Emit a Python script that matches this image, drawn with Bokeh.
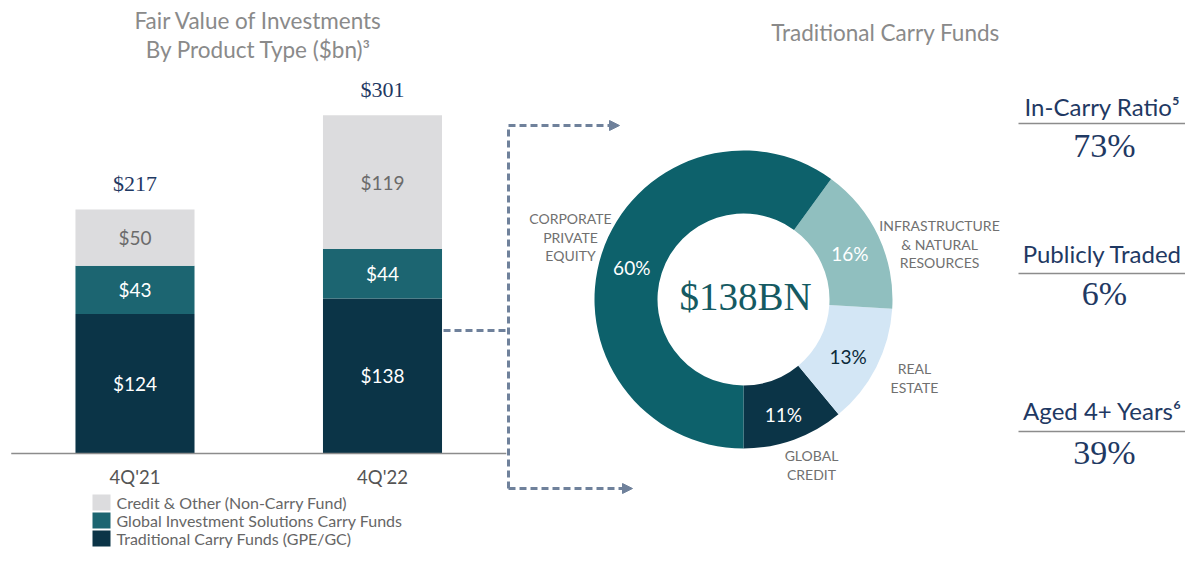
import numpy as np
from bokeh.plotting import figure
from bokeh.models import Range1d, Arrow, NormalHead
from bokeh.core.properties import value
from bokeh.embed import file_html
from bokeh.resources import INLINE

# ---------------- data ----------------
periods = ["4Q'21", "4Q'22"]
traditional = [124, 138]
gis = [43, 44]
credit_other = [50, 119]
totals = [217, 301]
legend_names = ["Credit & Other (Non-Carry Fund)",
                "Global Investment Solutions Carry Funds",
                "Traditional Carry Funds (GPE/GC)"]

donut_names = [["GLOBAL", "CREDIT"], ["REAL", "ESTATE"],
               ["INFRASTRUCTURE", "& NATURAL", "RESOURCES"],
               ["CORPORATE", "PRIVATE", "EQUITY"]]
donut_pct = [11, 13, 16, 60]
donut_total = "$138BN"

stat_titles = ["In-Carry Ratio\u2075", "Publicly Traded", "Aged 4+ Years\u2076"]
stat_values = ["73%", "6%", "39%"]

# ---------------- styles ----------------
SANS = value("Lato")
SERIF = value("Liberation Serif")
C_DARK = "#0b3447"
C_MID = "#1c6571"
C_LIGHT = "#dcdcde"
DONUT_COLORS = ["#0b3447", "#d3e6f5", "#90bfbf", "#0d616b"]
PCT_COLORS = ["white", "#0b2a3a", "white", "white"]
NAVY = "#1f3963"
GREY = "#8a8a8a"
DASH = "#6f819b"


def Y(y):
    return 566 - y


p = figure(width=1185, height=550, x_range=Range1d(0, 1185), y_range=Range1d(16, 566),
           output_backend="svg", toolbar_location=None, min_border=0,
           x_axis_location=None, y_axis_location=None)
p.grid.visible = False
p.outline_line_color = None
p.background_fill_color = "white"
p.border_fill_color = "white"

p.extra_x_ranges = {"cat": Range1d(-0.5434, 4.2444)}
p.extra_y_ranges = {"bn": Range1d(-86.30, 403.02)}

# ---------------- stacked bars ----------------
xi = np.arange(len(periods))
trad = np.array(traditional)
g = np.array(gis)
co = np.array(credit_other)
bw = 0.481
p.vbar(x=xi, bottom=0, top=trad, width=bw, fill_color=C_DARK, line_color=None,
       x_range_name="cat", y_range_name="bn")
p.vbar(x=xi, bottom=trad, top=trad + g, width=bw, fill_color=C_MID, line_color=None,
       x_range_name="cat", y_range_name="bn")
p.vbar(x=xi, bottom=trad + g, top=trad + g + co, width=bw, fill_color=C_LIGHT, line_color=None,
       x_range_name="cat", y_range_name="bn")

seg_kw = dict(text_align="center", text_baseline="middle", text_font=SANS,
              text_font_size="19px", x_range_name="cat", y_range_name="bn")
p.text(x=xi, y=trad / 2, text=["$%d" % v for v in trad], text_color="white", **seg_kw)
p.text(x=xi, y=trad + g / 2, text=["$%d" % v for v in g], text_color="white", **seg_kw)
p.text(x=xi, y=trad + g + co / 2, text=["$%d" % v for v in co], text_color="#6b6b6b", **seg_kw)

p.text(x=xi, y=np.array(totals) + 23, text=["$%d" % v for v in totals], text_color=NAVY,
       text_align="center", text_baseline="middle", text_font=SERIF, text_font_size="22px",
       x_range_name="cat", y_range_name="bn")

p.segment(x0=[-0.5], x1=[len(periods) - 0.5], y0=[0], y1=[0], line_color="#8c8c8c",
          line_width=1.5, x_range_name="cat", y_range_name="bn")

p.text(x=xi, y=[Y(476)] * len(periods), text=periods, text_color="#555555",
       text_align="center", text_baseline="middle", text_font=SANS, text_font_size="18.5px",
       x_range_name="cat")

# left title
p.text(x=[258, 258], y=[Y(20), Y(49)],
       text=["Fair Value of Investments", "By Product Type ($bn)\u00b3"],
       text_color=GREY, text_align="center", text_baseline="middle", text_font=SANS,
       text_font_size="22.5px")

# legend
leg_y = [Y(502), Y(520), Y(538)]
p.rect(x=[101] * 3, y=leg_y, width=18, height=16, fill_color=[C_LIGHT, C_MID, C_DARK],
       line_color=None)
p.text(x=[116] * 3, y=leg_y, text=legend_names, text_color="#666666", text_align="left",
       text_baseline="middle", text_font=SANS, text_font_size="16px")

# ---------------- dashed connector ----------------
p.line(x=[443, 508], y=[Y(330), Y(330)], line_color=DASH, line_width=3, line_dash="7 4")
p.line(x=[508, 508], y=[Y(488), Y(125)], line_color=DASH, line_width=3, line_dash="7 4")
for (x0, x1, yy) in [(508, 619, 125), (508, 632, 488)]:
    p.add_layout(Arrow(x_start=x0, y_start=Y(yy), x_end=x1, y_end=Y(yy),
                       line_color=DASH, line_width=3, line_dash="7 4",
                       end=NormalHead(size=10, fill_color=DASH, line_color=DASH, line_width=1)))

# ---------------- donut ----------------
cx, cy = 743, Y(299)
frac = np.array(donut_pct) / 100.0
ends = -np.pi / 2 + 2 * np.pi * np.cumsum(frac)
starts = ends - 2 * np.pi * frac
p.annular_wedge(x=cx, y=cy, inner_radius=86, outer_radius=149, start_angle=starts,
                end_angle=ends, direction="anticlock", fill_color=DONUT_COLORS, line_color=None)
mids = (starts + ends) / 2
rm = 117.5
p.text(x=cx + rm * np.cos(mids), y=cy + rm * np.sin(mids) - 4,
       text=["%d%%" % v for v in donut_pct], text_color=PCT_COLORS, text_align="center",
       text_baseline="middle", text_font=SANS, text_font_size="19px")
p.text(x=[745], y=[Y(296)], text=[donut_total], text_color="#155a62", text_align="center",
       text_baseline="middle", text_font=SERIF, text_font_size="39px")

# category labels around the donut
name_pos = [(811, 455), (914, 368), (939, 225), (570, 218)]
lx, ly, lt = [], [], []
for names, (nx, ny) in zip(donut_names, name_pos):
    for k, nm in enumerate(names):
        lx.append(nx)
        ly.append(Y(ny + 18.5 * k))
        lt.append(nm)
p.text(x=lx, y=ly, text=lt, text_color="#707070", text_align="center", text_baseline="middle",
       text_font=SANS, text_font_size="14px")

p.text(x=[885], y=[Y(32)], text=["Traditional Carry Funds"], text_color=GREY,
       text_align="center", text_baseline="middle", text_font=SANS, text_font_size="22.5px")

# ---------------- right stats ----------------
st_title_y = [106, 253, 410]
st_line_y = [123, 273, 431]
st_val_y = [145, 293, 452]
p.text(x=[1102] * 3, y=[Y(v) for v in st_title_y], text=stat_titles, text_color=NAVY,
       text_align="center", text_baseline="middle", text_font=SANS, text_font_size="24px")
p.segment(x0=[1018] * 3, x1=[1185] * 3, y0=[Y(v) for v in st_line_y],
          y1=[Y(v) for v in st_line_y], line_color="#8c8c8c", line_width=1.5)
p.text(x=[1104] * 3, y=[Y(v) for v in st_val_y], text=stat_values, text_color=NAVY,
       text_align="center", text_baseline="middle", text_font=SERIF, text_font_size="34px")

open("out.html", "w").write(file_html(p, INLINE))
